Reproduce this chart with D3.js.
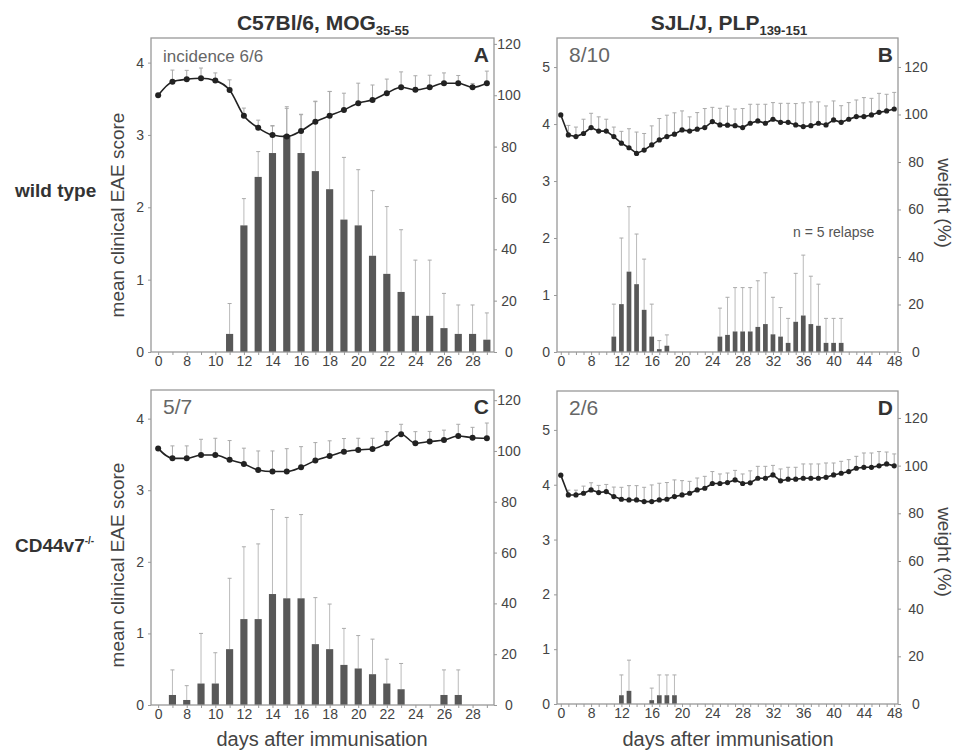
<!DOCTYPE html>
<html>
<head>
<meta charset="utf-8">
<script src="https://cdn.jsdelivr.net/npm/d3@7"></script>
<style>
body { margin: 0; background: #fff; }
svg { font-family: "Liberation Sans", Arial, Helvetica, sans-serif; }
</style>
</head>
<body>
<script>
// days after immunisation (categorical, day 0 then the measured days)
let daysMOG = [0, 7, 8, 9, 10, 11, 12, 13, 14, 15, 16, 17, 18, 19, 20, 21, 22, 23, 24, 25, 26, 27, 28, 29];
let daysPLP = [0, 5, 6, 7, 8, 9, 10, 11, 12, 13, 14, 15, 16, 17, 18, 19, 20, 21, 22, 23, 24, 25, 26,
    27, 28, 29, 30, 31, 32, 33, 34, 35, 36, 37, 38, 39, 40, 41, 42, 43, 44, 45, 46, 47, 48];

let labelsMOG = [0, 8, 10, 12, 14, 16, 18, 20, 22, 24, 26, 28];
let labelsPLP = [0, 8, 12, 16, 20, 24, 28, 32, 36, 40, 44, 48];
let weightTicks = [0, 20, 40, 60, 80, 100, 120];

// A: wild type, MOG 35-55
let weightA = [100, 105.3, 106.2, 106.6, 105.7, 102, 92, 87.3, 84.5, 83.9, 86.1, 89.7, 92, 94.3, 96.9, 98.2, 100.8, 103.1, 102.1, 103.1, 104.7, 104.7, 103.1, 104.7];
let weightErrA = [0, 4.5, 3.5, 4, 3, 4, 3, 3, 3.5, 11, 6.5, 8, 9.5, 6.5, 7.8, 5.8, 5.5, 6, 5.5, 4.7, 4, 3, 1.5, 4.7];
let scoreA = [0, 0, 0, 0, 0, 0.25, 1.75, 2.42, 2.75, 3.0, 2.75, 2.5, 2.25, 1.83, 1.75, 1.33, 1.08, 0.83, 0.5, 0.5, 0.33, 0.25, 0.25, 0.17];
let scoreErrA = [0, 0, 0, 0, 0, 0.42, 0.37, 0.35, 0.38, 0.39, 0.53, 0.96, 1.35, 0.86, 0.77, 0.9, 0.93, 0.86, 0.77, 0.77, 0.48, 0.4, 0.4, 0.37];

// B: wild type, PLP 139-151
let weightB = [99.8, 91.4, 90.7, 92, 94.5, 93, 93, 90.7, 87.9, 86, 83.6, 85, 87.2, 89.3, 90.7, 91.7, 93.5, 93, 93.8, 94.5, 97, 95.6, 95.5,
    95.3, 94.5, 96.3, 97.3, 96.3, 98, 96.7, 96.7, 95.6, 94.9, 95.3, 96.3, 95.6, 97.7, 96.7, 98, 99.1, 99.1, 99.8, 100.9, 101.5, 102.3];
let weightErrB = [0, 4, 4, 6, 6, 6, 5, 4, 5, 8, 9, 7, 8, 9, 9, 9, 8, 6, 7, 8, 6, 7, 8,
    7, 8, 8, 7, 8, 7, 8, 8, 9, 10, 10, 9, 8, 8, 7, 7, 7, 8, 7, 8, 7, 7];
let scoreB = [0, 0, 0, 0, 0, 0, 0, 0.27, 0.84, 1.41, 1.19, 0.74, 0.27, 0.05, 0.11, 0, 0, 0, 0, 0, 0, 0.27, 0.3,
    0.36, 0.36, 0.36, 0.44, 0.49, 0.31, 0.27, 0.16, 0.53, 0.64, 0.49, 0.46, 0.16, 0.16, 0.16, 0, 0, 0, 0, 0, 0, 0];
let scoreErrB = [0, 0, 0, 0, 0, 0, 0, 0.57, 1.16, 1.14, 0.88, 0.89, 0.57, 0.15, 0.19, 0, 0, 0, 0, 0, 0, 0.5, 0.66,
    0.77, 0.77, 0.77, 0.81, 0.9, 0.65, 0.51, 0.43, 0.85, 1.06, 0.84, 0.73, 0.43, 0.43, 0.43, 0, 0, 0, 0, 0, 0, 0];

// C: CD44v7-/-, MOG 35-55
let weightC = [101, 97.1, 97.1, 98.4, 98.4, 96.5, 94.9, 92.5, 91.9, 91.9, 93.6, 96.2, 98, 99.7, 100.4, 100.8, 103, 106.6, 103, 103.7, 104.3, 105.9, 105.2, 105];
let weightErrC = [0, 4.9, 4.9, 6.2, 6.6, 7.6, 6.2, 7.5, 8.1, 9, 8.1, 7.1, 6, 5.2, 4.6, 4.2, 4.6, 3.9, 4.6, 4, 3.9, 4.6, 4.1, 6];
let scoreC = [0, 0.14, 0.07, 0.3, 0.3, 0.78, 1.2, 1.2, 1.55, 1.49, 1.49, 0.85, 0.78, 0.56, 0.51, 0.43, 0.3, 0.22, 0, 0, 0.14, 0.14, 0, 0];
let scoreErrC = [0, 0.35, 0.2, 0.7, 0.43, 0.99, 1.01, 1.05, 1.18, 1.13, 1.17, 0.65, 0.63, 0.51, 0.46, 0.49, 0.34, 0.36, 0, 0, 0.35, 0.35, 0, 0];

// D: CD44v7-/-, PLP 139-151
let weightD = [96, 87.7, 87.7, 88.4, 89.8, 88.7, 89.1, 87, 85.9, 85.6, 85.6, 84.9, 84.9, 85.6, 85.9, 87, 87.7, 88.4, 89.8, 90.5, 92.5, 92.5, 92.9,
    94, 92.5, 92.8, 94.7, 94.7, 96.1, 93.6, 94.3, 94.3, 94.7, 94.7, 94.7, 95.1, 96.1, 96.8, 97.5, 98.9, 99.3, 99.3, 99.9, 100.7, 99.9];
let weightErrD = [0, 2, 2, 3, 3, 3, 3, 4, 5, 6, 6, 6, 7, 7, 7, 7, 6, 5, 5, 5, 5, 4, 4,
    4, 4, 5, 5, 5, 4, 5, 5, 5, 6, 6, 6, 6, 5, 5, 5, 5, 6, 6, 6, 5, 5];
let scoreD = [0, 0, 0, 0, 0, 0, 0, 0, 0.16, 0.24, 0, 0, 0.07, 0.16, 0.16, 0.16, 0, 0, 0, 0, 0, 0, 0,
    0, 0, 0, 0, 0, 0, 0, 0, 0, 0, 0, 0, 0, 0, 0, 0, 0, 0, 0, 0, 0, 0];
let scoreErrD = [0, 0, 0, 0, 0, 0, 0, 0, 0.37, 0.56, 0, 0, 0.22, 0.37, 0.37, 0.37, 0, 0, 0, 0, 0, 0, 0,
    0, 0, 0, 0, 0, 0, 0, 0, 0, 0, 0, 0, 0, 0, 0, 0, 0, 0, 0, 0, 0, 0];

let svg = d3.select("body").append("svg")
    .attr("width", 955)
    .attr("height", 752);

let panels = [
    {letter: "A", note: "incidence 6/6", noteSize: 17, days: daysMOG, labels: labelsMOG,
     weight: weightA, weightErr: weightErrA, score: scoreA, scoreErr: scoreErrA,
     left: 151, right: 494, top: 38, bottom: 352, scoreMax: 4.34, weightMax: 122.3,
     scoreTicks: [0, 1, 2, 3, 4], barFrac: 0.5, r: 3, smooth: true, rLabelX: 509},
    {letter: "B", note: "8/10", noteSize: 21, days: daysPLP, labels: labelsPLP,
     weight: weightB, weightErr: weightErrB, score: scoreB, scoreErr: scoreErrB,
     left: 557, right: 898, top: 38, bottom: 352, scoreMax: 5.51, weightMax: 132.2,
     scoreTicks: [0, 1, 2, 3, 4, 5], barFrac: 0.62, r: 2.6, smooth: false, rLabelX: 916},
    {letter: "C", note: "5/7", noteSize: 21, days: daysMOG, labels: labelsMOG,
     weight: weightC, weightErr: weightErrC, score: scoreC, scoreErr: scoreErrC,
     left: 151, right: 494, top: 390, bottom: 705, scoreMax: 4.4, weightMax: 124,
     scoreTicks: [0, 1, 2, 3, 4], barFrac: 0.5, r: 3, smooth: true, rLabelX: 509},
    {letter: "D", note: "2/6", noteSize: 21, days: daysPLP, labels: labelsPLP,
     weight: weightD, weightErr: weightErrD, score: scoreD, scoreErr: scoreErrD,
     left: 557, right: 898, top: 391, bottom: 704, scoreMax: 5.71, weightMax: 131.3,
     scoreTicks: [0, 1, 2, 3, 4, 5], barFrac: 0.62, r: 2.6, smooth: false, rLabelX: 916}
];

function styleAxis(ax, size) {
    ax.select(".domain").remove();
    ax.selectAll(".tick line").attr("stroke", "#999");
    ax.selectAll(".tick text").attr("fill", "#444").style("font-size", size + "px");
}

panels.forEach(function(p) {
    let x = d3.scalePoint().domain(p.days).range([p.left, p.right]).padding(0.5);
    let yL = d3.scaleLinear().domain([0, p.scoreMax]).range([p.bottom, p.top]);
    let yR = d3.scaleLinear().domain([0, p.weightMax]).range([p.bottom, p.top]);
    let g = svg.append("g").attr("id", "panel" + p.letter);

    //clinical score bars with upward error bars
    let bw = x.step() * p.barFrac;
    let bars = p.days.map((d, i) => ({day: d, v: p.score[i], e: p.scoreErr[i]})).filter(d => d.v > 0);
    g.selectAll(".berr").data(bars).enter().append("line")
        .attr("x1", d => x(d.day)).attr("x2", d => x(d.day))
        .attr("y1", d => yL(d.v)).attr("y2", d => yL(d.v + d.e))
        .attr("stroke", "#bbb").attr("stroke-width", 1);
    g.selectAll(".bcap").data(bars).enter().append("line")
        .attr("x1", d => x(d.day) - 2).attr("x2", d => x(d.day) + 2)
        .attr("y1", d => yL(d.v + d.e)).attr("y2", d => yL(d.v + d.e))
        .attr("stroke", "#aaa").attr("stroke-width", 1);
    g.selectAll(".bar").data(bars).enter().append("rect")
        .attr("x", d => x(d.day) - bw / 2)
        .attr("width", bw)
        .attr("y", d => yL(d.v))
        .attr("height", d => yL(0) - yL(d.v))
        .attr("fill", "#585858");

    //weight curve with upward error bars
    let pts = p.days.map((d, i) => ({day: d, w: p.weight[i], e: p.weightErr[i]}));
    let wErr = pts.filter(d => d.e > 0);
    g.selectAll(".werr").data(wErr).enter().append("line")
        .attr("x1", d => x(d.day)).attr("x2", d => x(d.day))
        .attr("y1", d => yR(d.w)).attr("y2", d => yR(d.w + d.e))
        .attr("stroke", "#aaa").attr("stroke-width", 1);
    g.selectAll(".wcap").data(wErr).enter().append("line")
        .attr("x1", d => x(d.day) - 2).attr("x2", d => x(d.day) + 2)
        .attr("y1", d => yR(d.w + d.e)).attr("y2", d => yR(d.w + d.e))
        .attr("stroke", "#aaa").attr("stroke-width", 1);

    let line = d3.line()
        .x(d => x(d.day))
        .y(d => yR(d.w))
        .curve(p.smooth ? d3.curveMonotoneX : d3.curveLinear);
    g.append("path").datum(pts)
        .attr("d", line)
        .attr("fill", "none")
        .attr("stroke", "#222")
        .attr("stroke-width", 1.6);
    g.selectAll(".mk").data(pts).enter().append("circle")
        .attr("cx", d => x(d.day)).attr("cy", d => yR(d.w))
        .attr("r", p.r).attr("fill", "#222");

    //frame
    g.append("rect")
        .attr("x", p.left).attr("y", p.top)
        .attr("width", p.right - p.left).attr("height", p.bottom - p.top)
        .attr("fill", "none").attr("stroke", "#999").attr("stroke-width", 1.3);

    //left axis: clinical score
    let axL = g.append("g").attr("transform", `translate(${p.left},0)`)
        .call(d3.axisLeft(yL).tickValues(p.scoreTicks).tickSize(3).tickPadding(4)
            .tickFormat(d3.format("d")));
    styleAxis(axL, 14);

    //right axis: weight
    let axR = g.append("g").attr("transform", `translate(${p.right},0)`)
        .call(d3.axisRight(yR).tickValues(weightTicks).tickSize(3));
    styleAxis(axR, 14);
    axR.selectAll(".tick text").attr("x", p.rLabelX - p.right).attr("text-anchor", "middle");

    //bottom axis: every day ticked, selected days labelled
    let axB = g.append("g").attr("transform", `translate(0,${p.bottom})`)
        .call(d3.axisBottom(x).tickValues(p.days).tickSize(3).tickPadding(1)
            .tickFormat(d => p.labels.includes(d) ? d : ""));
    styleAxis(axB, 14);

    //incidence note and panel letter
    g.append("text")
        .attr("x", p.left + 12).attr("y", p.top + 24)
        .attr("fill", "#666").style("font-size", p.noteSize + "px")
        .text(p.note);
    g.append("text")
        .attr("x", p.right - 5).attr("y", p.top + 24)
        .attr("text-anchor", "end").attr("fill", "#333")
        .style("font-size", "21px").style("font-weight", "bold")
        .text(p.letter);
});

//column titles
function title(cx, main, sub) {
    let t = svg.append("text")
        .attr("x", cx).attr("y", 30)
        .attr("text-anchor", "middle").attr("fill", "#333")
        .style("font-size", "21px").style("font-weight", "bold");
    t.append("tspan").text(main);
    t.append("tspan").attr("dy", 5).style("font-size", "13px").text(sub);
}
title(323, "C57Bl/6, MOG", "35-55");
title(729, "SJL/J, PLP", "139-151");

//row labels
svg.append("text")
    .attr("x", 15).attr("y", 197)
    .attr("fill", "#333").style("font-size", "19px").style("font-weight", "bold")
    .text("wild type");
let cd = svg.append("text")
    .attr("x", 15).attr("y", 552)
    .attr("fill", "#333").style("font-size", "19px").style("font-weight", "bold");
cd.append("tspan").text("CD44v7");
cd.append("tspan").attr("dy", -8).style("font-size", "10px").text("-/-");

//axis titles
[215, 565].forEach(function(cy) {
    svg.append("text")
        .attr("transform", `translate(124,${cy}) rotate(-90)`)
        .attr("text-anchor", "middle").attr("fill", "#444")
        .style("font-size", "19px")
        .text("mean clinical EAE score");
});
[203, 552].forEach(function(cy) {
    svg.append("text")
        .attr("transform", `translate(938,${cy}) rotate(90)`)
        .attr("text-anchor", "middle").attr("fill", "#444")
        .style("font-size", "19px")
        .text("weight (%)");
});
[322, 728].forEach(function(cx) {
    svg.append("text")
        .attr("x", cx).attr("y", 746)
        .attr("text-anchor", "middle").attr("fill", "#444")
        .style("font-size", "20px")
        .text("days after immunisation");
});

svg.append("text")
    .attr("x", 793).attr("y", 237)
    .attr("fill", "#555").style("font-size", "14px")
    .text("n = 5 relapse");
</script>
</body>
</html>
